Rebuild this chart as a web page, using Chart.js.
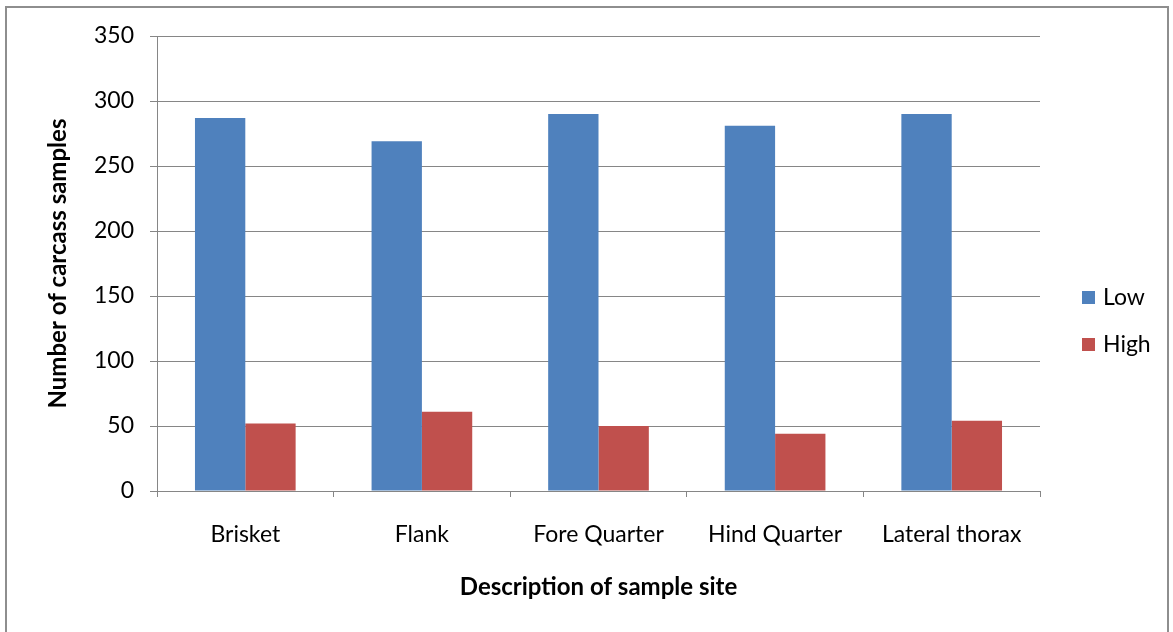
<!DOCTYPE html>
<html>
<head>
<meta charset="utf-8">
<script src="https://cdn.jsdelivr.net/npm/chart.js@4"></script>
<style>
  body { margin: 0; background: #fff; }
  #frame { position: absolute; left: 5px; top: 6px; width: 1160px; height: 640px; border: 2px solid #8e8e8e; }
  #wrap { position: absolute; left: 0; top: 0; width: 1173px; height: 632px; }
</style>
</head>
<body>
<div id="frame"></div>
<div id="wrap"><canvas id="samples" width="1173" height="632"></canvas></div>
<script>
const sites = ['Brisket', 'Flank', 'Fore Quarter', 'Hind Quarter', 'Lateral thorax'];
const lowCounts = [287, 269, 290, 281, 290];
const highCounts = [52, 61, 50, 44, 54];
const yTicks = [0, 50, 100, 150, 200, 250, 300, 350];

const fontFamily = 'Lato, "Open Sans", sans-serif';
const gridGray = '#868686';

// legend drawn on the right side, like the original
const sideLegend = {
	id: 'sideLegend',
	afterDraw(chart) {
		const ctx = chart.ctx;
		const rows = [297, 344];
		ctx.save();
		ctx.font = '23px ' + fontFamily;
		ctx.textBaseline = 'middle';
		chart.data.datasets.forEach((ds, i) => {
			ctx.fillStyle = ds.backgroundColor;
			ctx.fillRect(1082, rows[i] - 6, 13, 13);
			ctx.fillStyle = '#000';
			ctx.fillText(ds.label, 1103, rows[i] + 1);
		});
		ctx.restore();
	}
};

const myChart = document.getElementById('samples');

new Chart(myChart, {
	type: 'bar',
	data: {
		labels: sites,
		datasets: [{
			label: 'Low',
			data: lowCounts,
			backgroundColor: '#4F81BD',
			categoryPercentage: 0.57,
			barPercentage: 1.0
		}, {
			label: 'High',
			data: highCounts,
			backgroundColor: '#C0504D',
			categoryPercentage: 0.57,
			barPercentage: 1.0
		}]
	},
	options: {
		responsive: false,
		animation: false,
		devicePixelRatio: 1,
		layout: {
			padding: { left: 40, right: 133, top: 36, bottom: 30 }
		},
		plugins: {
			legend: { display: false },
			tooltip: { enabled: false }
		},
		scales: {
			x: {
				offset: true,
				grid: {
					offset: true,
					drawOnChartArea: false,
					drawTicks: true,
					tickLength: 6,
					color: gridGray
				},
				border: { color: gridGray },
				ticks: {
					color: '#000',
					padding: 24,
					font: { family: fontFamily, size: 23 },
					maxRotation: 0
				},
				title: {
					display: true,
					text: 'Description of sample site',
					color: '#000',
					font: { family: fontFamily, size: 24, weight: 'bold' },
					padding: { top: 10, bottom: 0 }
				},
				afterFit(scale) { scale.height = 111; }
			},
			y: {
				min: 0,
				max: 350,
				afterBuildTicks(scale) { scale.ticks = yTicks.map(v => ({ value: v })); },
				grid: {
					color: gridGray,
					tickLength: 7
				},
				border: { color: gridGray },
				ticks: {
					color: '#000',
					padding: 16,
					font: { family: fontFamily, size: 23 }
				},
				title: {
					display: true,
					text: 'Number of carcass samples',
					color: '#000',
					font: { family: fontFamily, size: 24, weight: 'bold' },
					padding: { top: 4, bottom: 0 }
				},
				afterFit(scale) { scale.width = 117; }
			}
		}
	},
	plugins: [sideLegend]
});
</script>
</body>
</html>
